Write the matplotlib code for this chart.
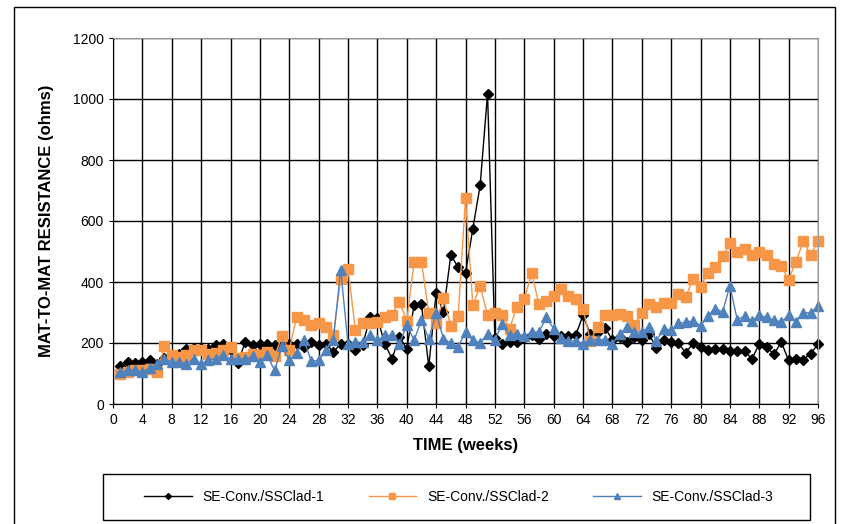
import matplotlib.pyplot as plt
from matplotlib.patches import Rectangle

plt.rcParams['font.family'] = ['Liberation Sans', 'DejaVu Sans']

weeks = list(range(1, 97))

# SE-Conv./SSClad-1
clad1 = [126, 137, 135, 137, 143, 132, 150, 155, 165, 181, 185, 185, 181, 192, 196, 176,
         135, 203, 192, 196, 198, 192, 195, 198, 198, 187, 203, 192, 198, 170, 198, 198,
         176, 192, 286, 283, 198, 148, 220, 181, 324, 327, 123, 363, 302, 489, 448, 429,
         575, 718, 1018, 215, 198, 203, 203, 218, 225, 214, 228, 222, 222, 222, 225, 291,
         228, 235, 250, 210, 220, 203, 220, 211, 228, 185, 209, 203, 200, 167, 200, 187,
         178, 181, 181, 174, 174, 174, 148, 196, 187, 163, 203, 143, 148, 145, 165, 196]

# SE-Conv./SSClad-2
clad2 = [99, 104, 110, 110, 115, 104, 189, 160, 154, 160, 176, 178, 163, 167, 176, 187,
         152, 154, 165, 160, 170, 156, 222, 178, 284, 277, 260, 264, 253, 225, 409, 444,
         244, 264, 266, 268, 286, 293, 335, 273, 467, 467, 299, 266, 346, 256, 288, 676,
         324, 387, 291, 297, 291, 247, 319, 343, 429, 327, 338, 354, 376, 354, 343, 313,
         207, 253, 291, 291, 295, 288, 260, 297, 327, 319, 332, 332, 360, 352, 409, 385,
         431, 448, 484, 527, 497, 508, 489, 500, 489, 459, 453, 407, 467, 533, 489, 533]

# SE-Conv./SSClad-3
clad3 = [104, 112, 110, 104, 119, 132, 148, 137, 137, 132, 148, 132, 145, 148, 160, 148,
         148, 148, 156, 137, 160, 110, 189, 143, 167, 209, 141, 143, 176, 209, 440, 198,
         203, 203, 225, 209, 225, 225, 198, 258, 209, 275, 214, 297, 214, 200, 187, 236,
         209, 200, 231, 211, 262, 225, 231, 222, 236, 236, 284, 247, 218, 207, 207, 198,
         209, 211, 211, 198, 228, 253, 236, 236, 253, 207, 247, 242, 264, 268, 273, 257,
         288, 313, 302, 387, 277, 288, 273, 291, 284, 275, 269, 291, 269, 299, 299, 321]

fig = plt.figure(figsize=(8.5, 5.24), dpi=100)
ax = fig.add_axes([113 / 850, 1 - 404 / 524, 705 / 850, 366 / 524])

ax.plot(weeks, clad1, color='black', lw=1, marker='D', ms=5, label='SE-Conv./SSClad-1', clip_on=False)
ax.plot(weeks, clad2, color='#F79646', lw=1, marker='s', ms=7, label='SE-Conv./SSClad-2', clip_on=False)
ax.plot(weeks, clad3, color='#4F81BD', lw=1, marker='^', ms=7, label='SE-Conv./SSClad-3', clip_on=False)

ax.set_xlim(0, 96)
ax.set_ylim(0, 1200)
ax.set_xticks(range(0, 97, 4))
ax.set_yticks(range(0, 1201, 200))
ax.grid(True, color='black', lw=1)
ax.set_axisbelow(True)
ax.tick_params(direction='inout', length=6, labelsize=10)
for s in ['top', 'right']:
    ax.spines[s].set_color('#999999')

ax.set_xlabel('TIME (weeks)', fontsize=12, fontweight='bold', labelpad=8)
ax.set_ylabel('MAT-TO-MAT RESISTANCE (ohms)', fontsize=12, fontweight='bold', labelpad=14)

# legend without its own frame, box drawn separately
fig.legend(loc='center', bbox_to_anchor=(459 / 850, 1 - 497 / 524), ncol=3,
           frameon=False, fontsize=10, handlelength=3.4,
           columnspacing=3.2, borderaxespad=0, markerscale=0.6)
fig.patches.append(Rectangle((103 / 850, 1 - 520 / 524), 707 / 850, 46 / 524,
                             transform=fig.transFigure, fill=False, ec='black', lw=1))

fig.patches.append(Rectangle((14 / 850, -0.01), 821 / 850, 1 - 7 / 524 + 0.01,
                             transform=fig.transFigure, fill=False, ec='black', lw=1))

fig.savefig('out.png', dpi=100)
